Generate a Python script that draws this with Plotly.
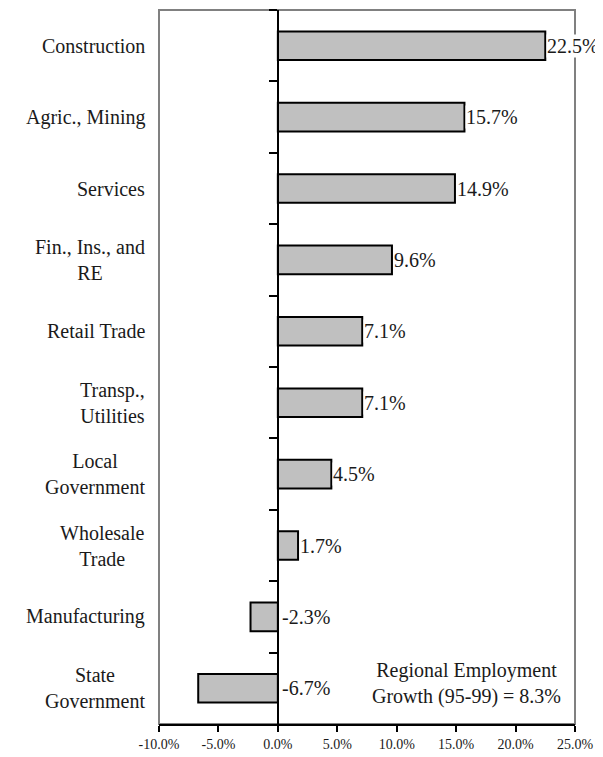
import plotly.graph_objects as go

categories = [
    'Construction', 'Agric., Mining', 'Services', 'Fin., Ins., and<br>RE',
    'Retail Trade', 'Transp.,<br>Utilities', 'Local<br>Government',
    'Wholesale<br>Trade', 'Manufacturing', 'State<br>Government',
]
growth = [22.5, 15.7, 14.9, 9.6, 7.1, 7.1, 4.5, 1.7, -2.3, -6.7]
tick_vals = [-10, -5, 0, 5, 10, 15, 20, 25]
note_text = 'Regional Employment<br>Growth (95-99) = 8.3%'

serif = 'Liberation Serif'
ink = '#1a1a1a'

fig = go.Figure(go.Bar(
    x=growth,
    y=categories,
    orientation='h',
    marker=dict(color='#c0c0c0', line=dict(color='black', width=2)),
    hoverinfo='skip',
))

# category labels, centred lines like the original
annotations = [
    dict(
        x=0, xref='paper', y=c, yref='y',
        text=c, showarrow=False,
        xanchor='right', align='center', xshift=-12,
        font=dict(family=serif, size=20, color=ink),
    ) for c in categories
]

# value labels, always to the right of the bar end / zero line
annotations += [
    dict(
        x=max(v, 0), xref='x', y=c, yref='y',
        text=f'{v:.1f}%', showarrow=False,
        xanchor='left', xshift=1 if v > 0 else 3,
        bgcolor='white', borderpad=0,
        font=dict(family=serif, size=20, color=ink),
    ) for v, c in zip(growth, categories)
]

annotations.append(dict(
    x=0.97, xref='paper', y=0.057, yref='paper',
    text=note_text, showarrow=False,
    xanchor='right', yanchor='middle', align='center',
    font=dict(family=serif, size=20, color=ink),
))

# page body adds an 8px offset, so the figure is a little smaller than the window
fig.update_layout(
    width=595, height=749,
    margin=dict(l=151, r=28, t=2, b=33),
    paper_bgcolor='white',
    plot_bgcolor='white',
    showlegend=False,
    bargap=0.6,
    xaxis=dict(
        range=[-10, 25],
        tickvals=tick_vals,
        ticktext=[f'{t:.1f}%' for t in tick_vals],
        ticks='outside', ticklen=6, tickwidth=1.5, tickcolor='black',
        showline=True, linecolor='black', linewidth=2,
        showgrid=False, zeroline=False,
        tickfont=dict(family=serif, size=14, color=ink),
        fixedrange=True,
    ),
    yaxis=dict(
        autorange='reversed',
        anchor='free', position=10 / 35,
        showline=True, linecolor='black', linewidth=2,
        ticks='outside', tickson='boundaries', ticklen=8, tickwidth=2, tickcolor='black',
        showticklabels=False, showgrid=False, zeroline=False,
        fixedrange=True,
    ),
    shapes=[dict(
        type='rect', xref='paper', yref='paper', x0=0, x1=1, y0=0, y1=1,
        line=dict(color='#808080', width=2), layer='below',
    )],
    annotations=annotations,
)

fig.write_html('out.html')
